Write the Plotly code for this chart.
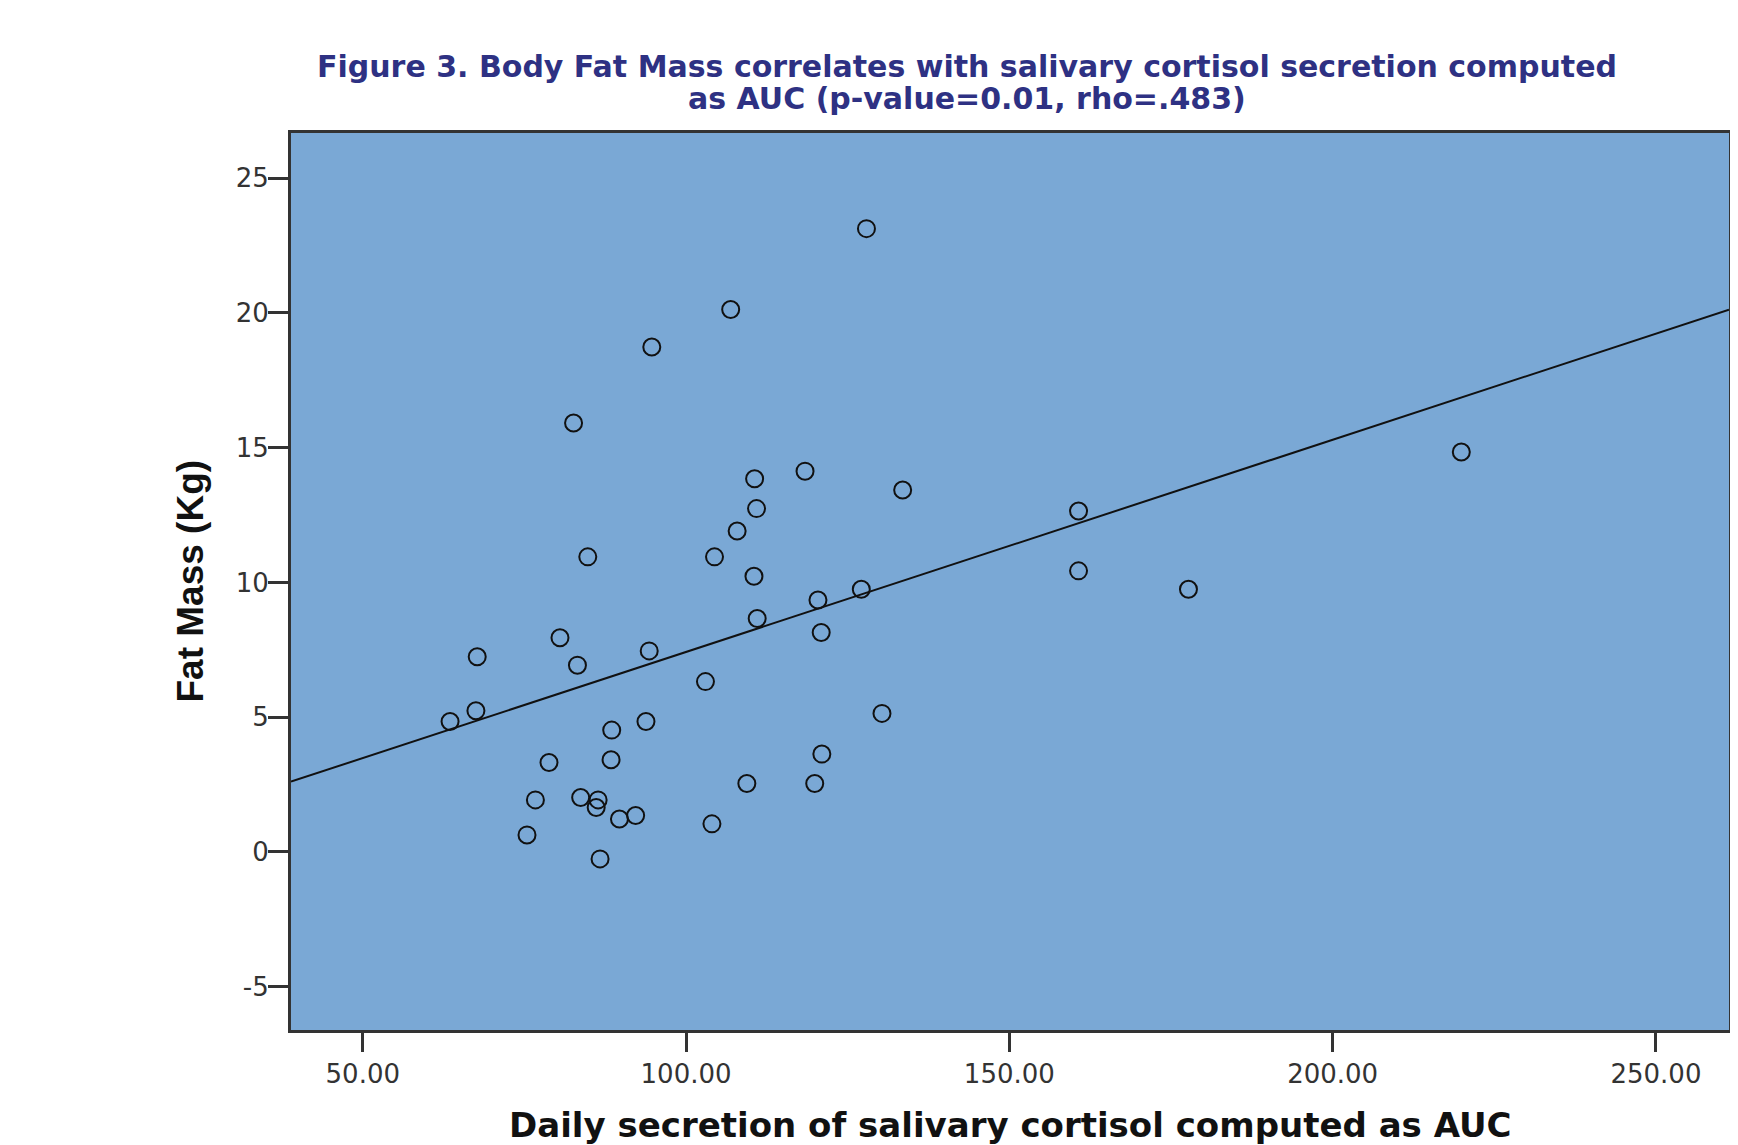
import numpy as np
import plotly.graph_objects as go

# Daily secretion of salivary cortisol (AUC) vs Fat Mass (Kg)
auc = [127.9, 106.9, 94.7, 82.6, 118.4, 219.9, 133.5, 110.6, 110.9, 107.9,
       160.7, 160.7, 177.7, 84.8, 104.4, 110.5, 127.1, 120.4, 111.0, 120.9,
       80.5, 94.3, 67.7, 83.2, 103.0, 63.5, 67.5, 93.8, 88.5, 130.3,
       78.8, 88.4, 121.0, 76.7, 83.7, 86.4, 86.1, 89.7, 92.2, 109.4,
       119.9, 75.4, 104.0, 86.7]
fat_mass = [23.13, 20.13, 18.74, 15.92, 14.13, 14.84, 13.43, 13.85, 12.74, 11.91,
            12.65, 10.43, 9.75, 10.95, 10.95, 10.23, 9.75, 9.35, 8.66, 8.14,
            7.95, 7.46, 7.24, 6.93, 6.32, 4.84, 5.24, 4.84, 4.52, 5.14,
            3.32, 3.42, 3.63, 1.93, 2.02, 1.93, 1.65, 1.22, 1.35, 2.54,
            2.54, 0.63, 1.04, -0.26]

x_ticks = [50, 100, 150, 200, 250]
x_tick_labels = ["50.00", "100.00", "150.00", "200.00", "250.00"]
y_ticks = [-5, 0, 5, 10, 15, 20, 25]
y_tick_labels = ["-5", "0", "5", "10", "15", "20", "25"]
x_range = [38.9, 261.3]
y_range = [-6.61, 26.68]

title_line1 = "Figure 3. Body Fat Mass correlates with salivary cortisol secretion computed"
title_line2 = "as AUC (p-value=0.01, rho=.483)"
x_title = "Daily secretion of salivary cortisol computed as AUC"
y_title = "Fat Mass (Kg)"

slope, intercept = np.polyfit(auc, fat_mass, 1)
line_x = np.array(x_range)
line_y = intercept + slope * line_x

SANS = "Liberation Sans, Arial, sans-serif"
WIDE = "DejaVu Sans, sans-serif"

fig = go.Figure()
fig.add_trace(go.Scatter(
    x=line_x, y=line_y, mode="lines",
    line=dict(color="#111111", width=2), hoverinfo="skip", showlegend=False))
fig.add_trace(go.Scatter(
    x=auc, y=fat_mass, mode="markers",
    marker=dict(symbol="circle-open", size=17, color="#111111",
                line=dict(width=2, color="#111111")),
    showlegend=False))

W, H = 1722, 1137
L, R, T, B = 283, 1, 125, 115
PW, PH = W - L - R, H - T - B

def px(fx):
    return (fx - L) / PW

def py(fy):
    return 1 - (fy - T) / PH

fig.update_layout(
    width=W, height=H,
    margin=dict(l=L, r=R, t=T, b=B, autoexpand=False),
    paper_bgcolor="white",
    plot_bgcolor="#7aa8d5",
    font=dict(family=SANS, color="#222222"),
)

annos = [
    dict(text=title_line1, x=px(959), y=py(58.5), font=dict(family=WIDE, size=30, color="#2e3183", weight="bold")),
    dict(text=title_line2, x=px(959), y=py(90.6), font=dict(family=WIDE, size=30, color="#2e3183", weight="bold")),
    dict(text=x_title, x=0.5, y=py(1117), font=dict(family=WIDE, size=34, color="#111111", weight="bold")),
    dict(text=y_title, x=px(182), y=0.5, textangle=-90,
         font=dict(family=SANS, size=37, color="#111111", weight="bold")),
]
for a in annos:
    fig.add_annotation(xref="paper", yref="paper", xanchor="center", yanchor="middle",
                       showarrow=False, **a)

fig.update_xaxes(
    range=x_range, tickvals=x_ticks, ticktext=x_tick_labels,
    showgrid=False, zeroline=False,
    ticks="outside", ticklen=19, tickwidth=3, tickcolor="#333333",
    tickfont=dict(size=26, color="#333333", family=WIDE),
    showline=True, linecolor="#333333", linewidth=3, mirror=True,
)
fig.update_yaxes(
    range=y_range, tickvals=y_ticks, ticktext=y_tick_labels,
    showgrid=False, zeroline=False,
    ticks="outside", ticklen=20, tickwidth=3, tickcolor="#333333",
    tickfont=dict(size=26, color="#333333", family=WIDE),
    ticklabelstandoff=-6,
    showline=True, linecolor="#333333", linewidth=3, mirror=True,
)

fig.write_html("out.html")
